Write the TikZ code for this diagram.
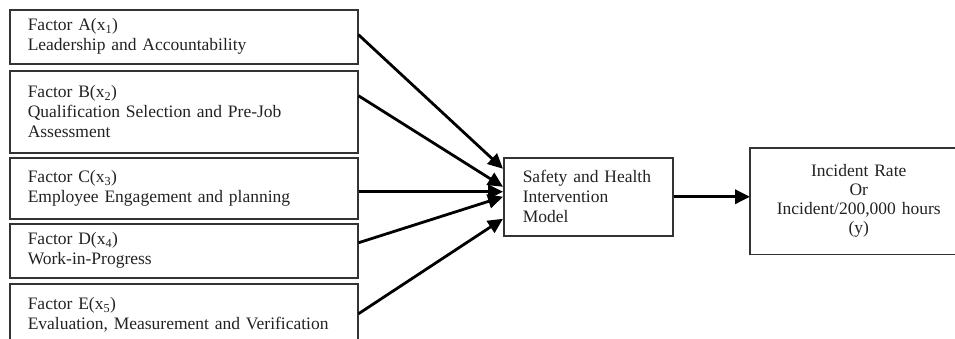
\documentclass[tikz,border=0pt]{standalone}
\usepackage{fontspec}
\setmainfont{Liberation Serif}
\usepackage{tikz}
\usetikzlibrary{arrows.meta}
\usepackage{xcolor}
\definecolor{boxline}{HTML}{333333}
\definecolor{txt}{HTML}{222222}

\begin{document}
\begin{tikzpicture}[x=1pt,y=-1pt,
  factor/.style={draw=boxline,line width=1.5pt,anchor=north west,minimum width=348pt,
    text width=312pt,inner xsep=18pt,align=left,text=txt,font=\fontsize{17.5}{20}\selectfont},
  link/.style={line width=2.8pt,-{Triangle[length=15pt,width=14pt]}}]
  \useasboundingbox (0,0) rectangle (955,338);
  \node[factor,minimum height=54pt] (fa) at (9,9) {Factor A(x\textsubscript{1})\\Leadership and Accountability};
  \node[factor,minimum height=82pt] (fb) at (9,70) {Factor B(x\textsubscript{2})\\Qualification Selection and Pre-Job\\Assessment};
  \node[factor,minimum height=61pt] (fc) at (9,157) {Factor C(x\textsubscript{3})\\Employee Engagement and planning};
  \node[factor,minimum height=54pt] (fd) at (9,223) {Factor D(x\textsubscript{4})\\Work-in-Progress};
  \node[factor,minimum height=62pt] (fe) at (9,283) {Factor E(x\textsubscript{5})\\Evaluation, Measurement and Verification};
  \node[factor,minimum width=169pt,minimum height=78pt,text width=131pt,inner xsep=19pt] (model) at (503,157) {Safety and Health\\Intervention\\Model};
  \node[factor,draw=none,minimum width=216pt,minimum height=105pt,text width=190pt,inner xsep=13pt,align=center,font=\fontsize{17.5}{19}\selectfont] (rate) at (750,148) {Incident Rate\\Or\\Incident/200,000 hours\\(y)};
  % right box runs off the page
  \draw[boxline,line width=1.5pt] ([xshift=40pt]rate.north east) -| (rate.south west) -| ([xshift=40pt]rate.north east);
  % factors into the model
  \draw[link] ([yshift=2pt]fa.east) -- ([yshift=28pt]model.west);
  \draw[link] ([yshift=16pt]fb.east) -- ([yshift=10pt]model.west);
  \draw[link] ([yshift=-3.5pt]fc.east) -- ([yshift=5pt]model.west);
  \draw[link] ([yshift=8pt]fd.east) -- (model.west);
  \draw[link] ([yshift=1pt]fe.east) -- ([yshift=-22pt]model.west);
  \draw[link,line width=3.4pt] (model.east) -- (model.east -| rate.west);
\end{tikzpicture}
\end{document}
